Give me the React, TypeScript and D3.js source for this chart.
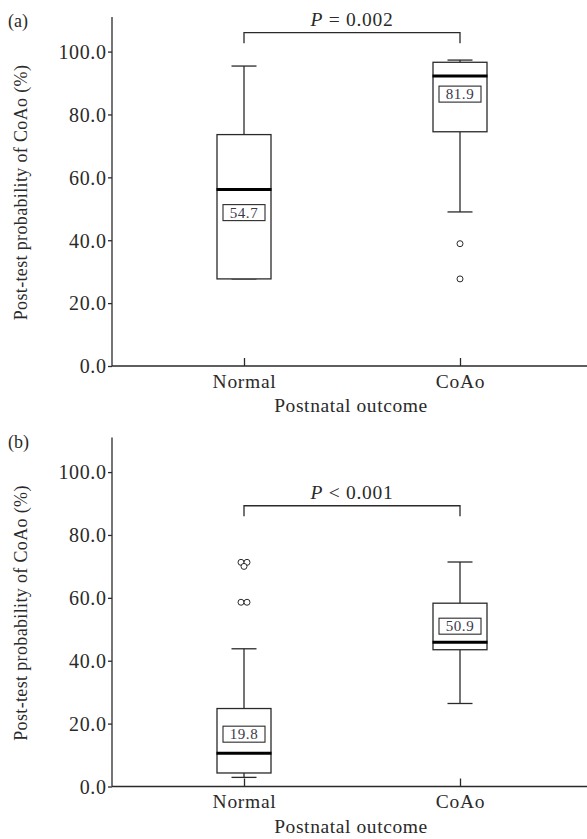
import React, { useEffect, useRef } from 'react';
import * as d3 from 'd3';

// categories and ticks
const groups = ['Normal', 'CoAo'];
const yTicks = [0, 20, 40, 60, 80, 100];

// panel (a) five-number summaries
const aMin = [27.7, 49.0];
const aQ1 = [27.7, 74.5];
const aMedian = [56.1, 92.2];
const aQ3 = [73.6, 96.6];
const aMax = [95.4, 97.3];
const aOutliers = [[], [38.9, 27.7]];
const aLabels = ['54.7', '81.9'];

// panel (b)
const bMin = [2.9, 26.4];
const bQ1 = [4.3, 43.5];
const bMedian = [10.6, 45.9];
const bQ3 = [24.8, 58.3];
const bMax = [43.8, 71.4];
const bOutliers = [[71.3, 71.3, 70.0, 58.6, 58.6], []];
const bLabels = ['19.8', '50.9'];

const W = 587;
const H = 839;
const FONT = '"Liberation Serif", "Times New Roman", serif';
const INK = '#2a2a2a';

const panels = [
	{ tag: '(a)', sign: '=', p: '0.002', bracket: 106, min: aMin, q1: aQ1, median: aMedian, q3: aQ3,
		max: aMax, outliers: aOutliers, labels: aLabels, labelShift: [23, 18], top: 0 },
	{ tag: '(b)', sign: '<', p: '0.001', bracket: 89.3, min: bMin, q1: bQ1, median: bMedian, q3: bQ3,
		max: bMax, outliers: bOutliers, labels: bLabels, labelShift: [-19, -16], top: 420.5 }
];

const drawPanel = (svg, d) => {
	const left = 112;
	const g = svg.append('g').attr('transform', `translate(0, ${ d.top })`);
	const y = d3.scaleLinear().domain([0, 111]).range([366, 17]);
	const x = d3.scalePoint().domain(groups).range([136, 568]).padding(0.5);
	const half = 27;
	const cap = 12.5;

	// axes lines
	g.append('line').attr('x1', left).attr('x2', left).attr('y1', y(111)).attr('y2', y(0))
		.attr('stroke', INK).attr('stroke-width', 1.3);
	g.append('line').attr('x1', left).attr('x2', W).attr('y1', y(0)).attr('y2', y(0))
		.attr('stroke', INK).attr('stroke-width', 1.3);

	const ya = g.append('g').attr('transform', `translate(${ left },0)`)
		.call(d3.axisLeft(y).tickValues(yTicks).tickSize(4).tickPadding(5)
			.tickFormat(d3.format('.1f')));
	ya.select('.domain').remove();
	ya.selectAll('line').attr('stroke', INK).attr('stroke-width', 1.3);
	ya.selectAll('text').attr('font-family', FONT).attr('font-size', 20)
		.attr('letter-spacing', 0.6).attr('fill', INK).attr('dy', '0.34em').attr('x', -5.5);

	const xa = g.append('g').attr('transform', `translate(0,${ y(0) })`)
		.call(d3.axisBottom(x).tickSize(-8).tickPadding(8));
	xa.select('.domain').remove();
	xa.selectAll('line').attr('stroke', INK).attr('stroke-width', 1.3);
	xa.selectAll('text').attr('font-family', FONT).attr('font-size', 19.5)
		.attr('letter-spacing', 0.7).attr('fill', INK);

	// titles
	g.append('text').attr('x', 351).attr('y', 412).attr('text-anchor', 'middle')
		.attr('font-family', FONT).attr('font-size', 19.5).attr('letter-spacing', 0.6)
		.attr('fill', INK).text('Postnatal outcome');
	g.append('text').attr('transform', 'translate(27,192.5) rotate(-90)').attr('text-anchor', 'middle')
		.attr('font-family', FONT).attr('font-size', 18).attr('letter-spacing', 0.35)
		.attr('fill', INK).text('Post-test probability of CoAo (%)');
	g.append('text').attr('x', 8).attr('y', 27).attr('font-family', FONT).attr('font-size', 18)
		.attr('fill', INK).text(d.tag);

	// significance bracket
	const bx0 = x(groups[0]);
	const bx1 = x(groups[1]);
	const by = y(d.bracket);
	g.append('path').attr('d', `M${ bx0 },${ by + 10.5 }V${ by }H${ bx1 }V${ by + 10.5 }`)
		.attr('fill', 'none').attr('stroke', INK).attr('stroke-width', 1.3);
	const pt = g.append('text').attr('x', (bx0 + bx1) / 2).attr('y', by - 6.5)
		.attr('text-anchor', 'middle').attr('font-family', FONT).attr('font-size', 19.5)
		.attr('letter-spacing', 0.7).attr('fill', INK);
	pt.append('tspan').attr('font-style', 'italic').text('P');
	pt.append('tspan').text(` ${ d.sign } ${ d.p }`);

	groups.forEach((grp, i) => {
		const cx = x(grp);
		const bg = g.append('g');
		const line = (x1, y1, x2, y2, w = 1.3) => bg.append('line')
			.attr('x1', x1).attr('y1', y1).attr('x2', x2).attr('y2', y2)
			.attr('stroke', INK).attr('stroke-width', w);

		line(cx, y(d.max[i]), cx, y(d.q3[i]));
		line(cx, y(d.q1[i]), cx, y(d.min[i]));
		line(cx - cap, y(d.max[i]), cx + cap, y(d.max[i]));
		line(cx - cap, y(d.min[i]), cx + cap, y(d.min[i]));
		bg.append('rect').attr('x', cx - half).attr('y', y(d.q3[i]))
			.attr('width', half * 2).attr('height', y(d.q1[i]) - y(d.q3[i]))
			.attr('fill', 'white').attr('stroke', INK).attr('stroke-width', 1.3);
		line(cx - half - 0.5, y(d.median[i]), cx + half + 0.5, y(d.median[i]), 3).attr('stroke', '#000');

		// value label
		const ly = y(d.median[i]) + d.labelShift[i];
		bg.append('rect').attr('x', cx - 21).attr('y', ly - 8).attr('width', 42).attr('height', 16)
			.attr('fill', 'white').attr('stroke', INK).attr('stroke-width', 1.1);
		bg.append('text').attr('x', cx).attr('y', ly + 5).attr('text-anchor', 'middle')
			.attr('font-family', FONT).attr('font-size', 15).attr('letter-spacing', 0.6)
			.attr('fill', '#3a3a4a').text(d.labels[i]);

		// outliers, tied values spread side by side
		const ties = d3.group(d.outliers[i], (v) => v);
		ties.forEach((vals, v) => {
			vals.forEach((_, k) => {
				const dx = (k - (vals.length - 1) / 2) * 6;
				bg.append('circle').attr('cx', cx + dx).attr('cy', y(v)).attr('r', 3)
					.attr('fill', 'white').attr('stroke', INK).attr('stroke-width', 1);
			});
		});
	});
};

const App = () => {
	const ref = useRef(null);

	useEffect(() => {
		const svg = d3.select(ref.current);
		svg.selectAll('*').remove();
		panels.forEach((d) => drawPanel(svg, d));
	}, []);

	return (
		<svg ref={ ref } width={ W } height={ H }
			style={ { position: 'absolute', left: 0, top: 0, background: 'white' } }/>
	);
};

export default App;
